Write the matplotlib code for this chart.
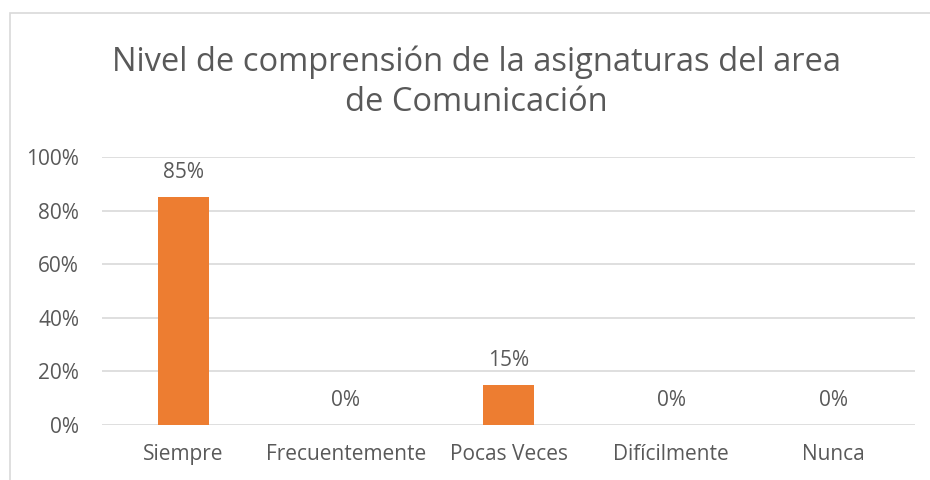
import matplotlib

matplotlib.use("Agg", force=True)
import matplotlib.pyplot as plt
from matplotlib.patches import Rectangle
from matplotlib.ticker import FuncFormatter

categories = ["Siempre", "Frecuentemente", "Pocas Veces", "Difícilmente", "Nunca"]
values = [0.85, 0.0, 0.15, 0.0, 0.0]
yticks = [0.0, 0.2, 0.4, 0.6, 0.8, 1.0]
title = "Nivel de comprensión de la asignaturas del area\nde Comunicación"

text_color = "#595959"
grid_color = "#d9d9d9"
bar_color = "#ED7D31"

plt.rcParams["font.family"] = ["Open Sans", "DejaVu Sans"]

fig = plt.figure(figsize=(9.3, 4.8), dpi=100)
ax = fig.add_axes([0.1097, 0.1146, 0.8743, 0.5584])

# chart frame (only top and left edges fall inside the picture)
fig.patches.append(Rectangle((10 / 930, -0.05), 1.2, 1 - 13 / 480 + 0.05,
                             transform=fig.transFigure, fill=False,
                             edgecolor=grid_color, linewidth=1.2))

x = list(range(len(categories)))
bars = ax.bar(x, values, width=0.31, color=bar_color, zorder=3)
for xi, v in zip(x, values):
    ax.annotate(f"{v:.0%}", (xi, v), xytext=(0, 17.5), textcoords="offset points",
                ha="center", va="center", fontsize=15, color=text_color)

ax.set_xlim(-0.5, len(categories) - 0.5)
ax.set_ylim(0, 1.0)
ax.set_yticks(yticks)
ax.yaxis.set_major_formatter(FuncFormatter(lambda v, _: f"{v:.0%}"))
ax.set_xticks(x)
ax.set_xticklabels(categories)
ax.tick_params(axis="both", length=0, labelsize=15, colors=text_color)
ax.tick_params(axis="x", pad=14)
ax.tick_params(axis="y", pad=16.5)
ax.grid(axis="y", color=grid_color, linewidth=1.2, zorder=0)
for s in ax.spines.values():
    s.set_visible(False)

fig.text(0.512, 0.829, title, ha="center", va="center", fontsize=23.5,
         color=text_color, linespacing=1.3)

fig.savefig("out.png", dpi=100)
